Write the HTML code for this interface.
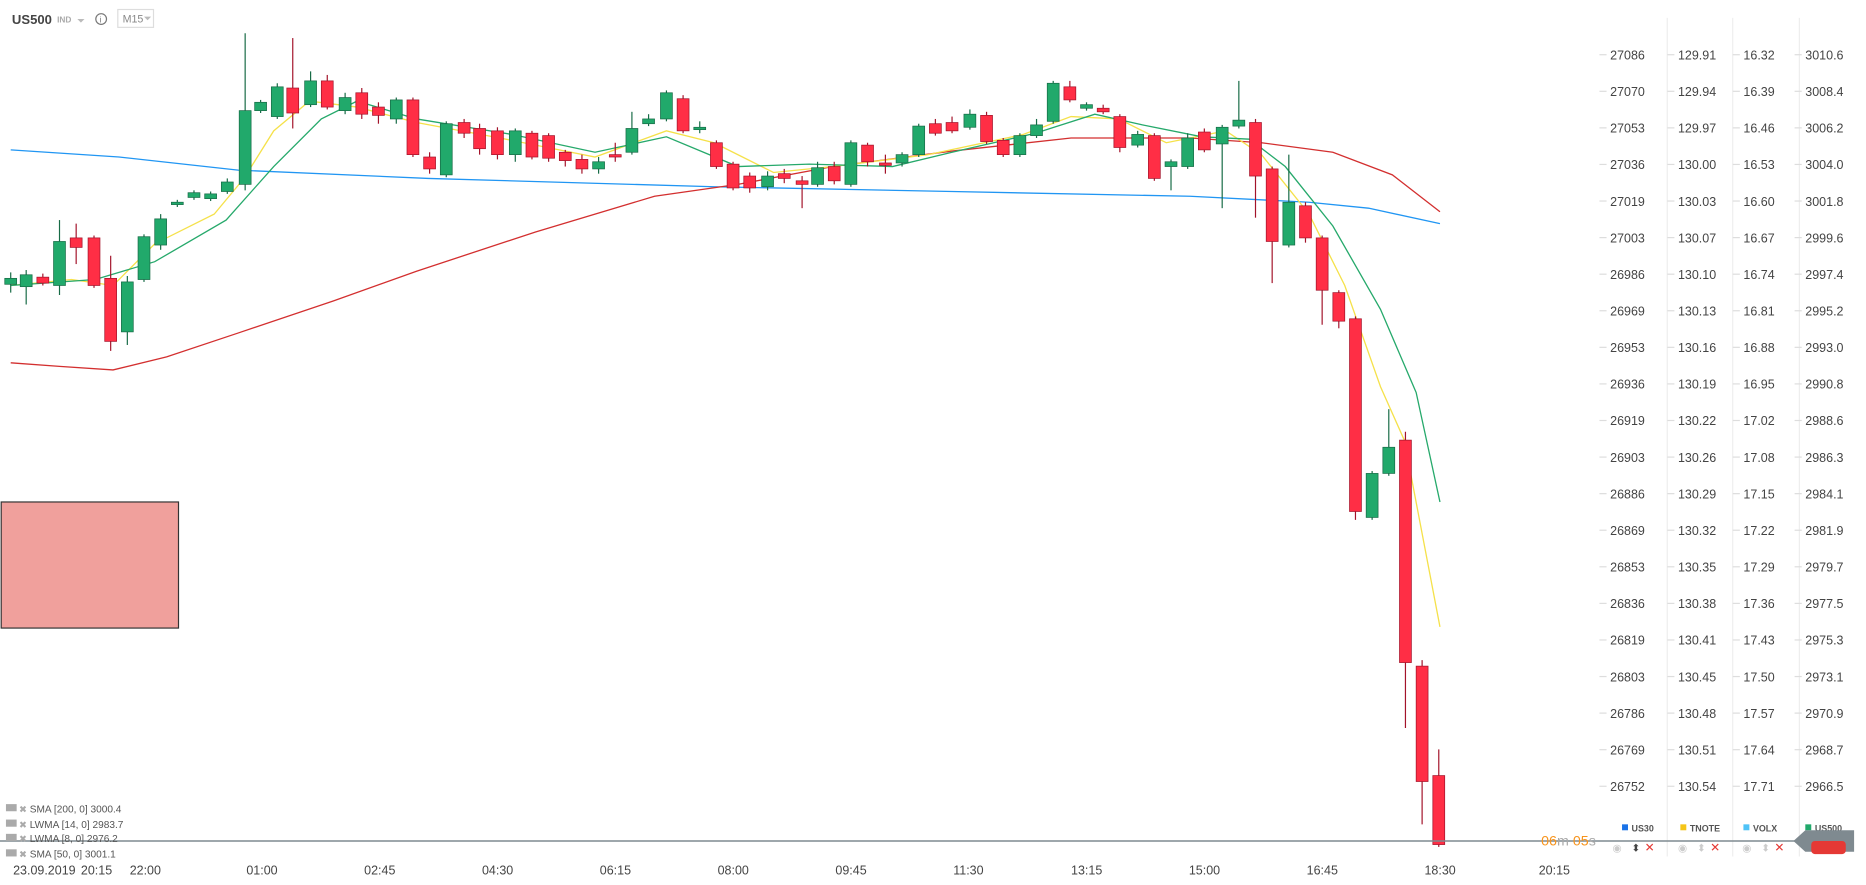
<!DOCTYPE html>
<html><head><meta charset="utf-8"><style>
html,body{margin:0;padding:0;background:#fff;overflow:hidden}
svg{display:block;font-family:"Liberation Sans",sans-serif}
</style></head><body>
<svg id="s" width="1866" height="885" viewBox="0 0 1568 744" preserveAspectRatio="none" xmlns="http://www.w3.org/2000/svg">
<rect width="1568" height="744" fill="#fff"/>
<g stroke="#eeeeee" stroke-width="1">
<line x1="1401" y1="15" x2="1401" y2="720"/><line x1="1456" y1="15" x2="1456" y2="720"/><line x1="1512" y1="15" x2="1512" y2="720"/>
</g>
<text x="10" y="20" font-size="11" font-weight="bold" fill="#444">US500</text>
<text x="48" y="19" font-size="7" fill="#aaa" font-weight="bold">IND</text>
<path d="M65 16 l3 3 l3 -3z" fill="#bbb"/>
<circle cx="85" cy="16" r="4.5" fill="none" stroke="#777" stroke-width="1"/><text x="83.7" y="19" font-size="7" fill="#777">i</text>
<rect x="99" y="8" width="30" height="15" fill="none" stroke="#ddd"/><text x="103" y="19" font-size="9" fill="#888">M15</text><path d="M121 14 l3 3 l3 -3z" fill="#bbb"/>
<rect x="1" y="422" width="149" height="106" fill="#f0a09c" stroke="#333" stroke-width="1"/>
<g id="ma" fill="none" stroke-width="1.1"></g>
<g id="c"></g>
<g id="ax" font-size="10.5" fill="#444"></g>
<line x1="0" y1="707" x2="1510" y2="707" stroke="#7f8a90" stroke-width="1.2"/>
<g font-size="8.5" fill="#555">
<text x="25" y="683">SMA  [200,  0] 3000.4</text>
<text x="25" y="696">LWMA  [14,  0] 2983.7</text>
<text x="25" y="708">LWMA  [8,  0] 2976.2</text>
<text x="25" y="721">SMA  [50,  0] 3001.1</text>
</g>
<g fill="#aaa"><rect x="5" y="676" width="9" height="6"/><rect x="5" y="689" width="9" height="6"/><rect x="5" y="701" width="9" height="6"/><rect x="5" y="714" width="9" height="6"/>
<text x="16" y="683" font-size="8">✖</text><text x="16" y="696" font-size="8">✖</text><text x="16" y="708" font-size="8">✖</text><text x="16" y="721" font-size="8">✖</text></g>
<g font-size="10.5" fill="#444">
<text x="11" y="735">23.09.2019</text><text x="68" y="735">20:15</text><text x="109" y="735">22:00</text><text x="207" y="735">01:00</text><text x="306" y="735">02:45</text><text x="405" y="735">04:30</text><text x="504" y="735">06:15</text><text x="603" y="735">08:00</text><text x="702" y="735">09:45</text><text x="801" y="735">11:30</text><text x="900" y="735">13:15</text><text x="999" y="735">15:00</text><text x="1098" y="735">16:45</text><text x="1197" y="735">18:30</text><text x="1293" y="735">20:15</text>
</g>
<text x="1295" y="711" font-size="12" fill="#f7941d">06<tspan fill="#aaa">m</tspan> 05<tspan fill="#aaa">s</tspan></text>
<g font-size="7.5" font-weight="bold" fill="#555">
<rect x="1363" y="693" width="5" height="5" fill="#1a73e8"/><text x="1371" y="699">US30</text>
<rect x="1412" y="693" width="5" height="5" fill="#f5c518"/><text x="1420" y="699">TNOTE</text>
<rect x="1465" y="693" width="5" height="5" fill="#4fc3f7"/><text x="1473" y="699">VOLX</text>
<rect x="1517" y="693" width="5" height="5" fill="#21a96b"/><text x="1525" y="699">US500</text>
</g>
<g font-size="10" fill="#e53935"><text x="1382" y="716">✕</text><text x="1437" y="716">✕</text><text x="1491" y="716">✕</text></g>
<g font-size="9" fill="#ccc"><text x="1355" y="716">◉</text><text x="1410" y="716">◉</text><text x="1464" y="716">◉</text><text x="1371" y="716" fill="#444">⬍</text><text x="1426" y="716">⬍</text><text x="1480" y="716">⬍</text></g>
<path d="M1507 707 l10 -9 h41 v18 h-41z" fill="#7f8a90"/>
<rect x="1522" y="707" width="29" height="11" rx="3" fill="#e53935"/>
</svg>
<script>
var C=[[9,239,234,229,246],[22,241,231,227,256],[36,233,238,230,240],[50,240,203,185,248],[64,200,208,188,222],[79,200,240,198,242],[93,234,287,215,295],[107,279,237,232,290],[121,235,199,197,237],[135,206,184,180,210],[149,172,170,168,174],[163,166,162,160,168],[177,167,163,161,169],[191,161,153,150,163],[206,155,93,28,160],[219,93,86,84,95],[233,98,73,70,100],[246,74,95,32,108],[261,88,68,60,90],[275,68,90,63,92],[290,93,82,78,96],[304,78,96,74,100],[318,90,97,86,104],[333,100,84,82,104],[347,84,130,82,132],[361,132,142,128,146],[375,147,104,102,149],[390,103,112,100,116],[403,108,125,104,130],[418,110,130,107,134],[433,130,110,108,136],[447,112,132,110,134],[461,114,133,112,136],[475,128,135,126,140],[489,134,142,130,146],[503,142,136,132,146],[517,130,132,120,136],[531,128,108,94,130],[545,104,100,96,106],[560,100,78,76,102],[574,83,110,80,112],[588,109,107,102,112],[602,120,140,118,142],[616,138,158,136,160],[630,148,158,145,162],[645,157,148,144,160],[659,146,150,142,154],[674,152,155,148,175],[687,155,141,136,157],[701,140,152,136,155],[715,155,120,118,157],[729,122,136,120,140],[744,137,139,130,146],[758,137,130,128,140],[772,130,106,104,132],[786,104,112,100,114],[800,103,110,98,112],[815,107,96,92,109],[829,97,119,94,121],[843,118,130,116,132],[857,130,114,112,132],[871,114,105,100,116],[885,102,70,68,104],[899,73,84,68,86],[913,91,88,86,93],[927,91,94,88,96],[941,98,124,96,128],[956,122,113,110,124],[970,114,150,112,152],[984,140,136,134,160],[998,140,116,112,142],[1012,111,126,108,128],[1027,121,107,105,175],[1041,106,101,68,108],[1055,103,148,100,183],[1069,142,203,140,238],[1083,206,170,130,208],[1097,173,200,170,204],[1111,200,244,198,273],[1125,246,270,244,276],[1139,268,430,266,437],[1153,435,398,396,437],[1167,398,376,344,400],[1181,370,557,363,612],[1195,560,657,555,693],[1209,652,710,630,712]];
var h='';C.forEach(function(c){var up=c[2]<c[1],col=up?'#21a96b':'#ff2e45',st=up?'#176b46':'#a3132a';var t=Math.min(c[1],c[2]),b=Math.max(c[1],c[2]);
h+='<line x1="'+c[0]+'" x2="'+c[0]+'" y1="'+c[3]+'" y2="'+c[4]+'" stroke="'+st+'" stroke-width="1"/>';
h+='<rect x="'+(c[0]-5)+'" y="'+t+'" width="10" height="'+Math.max(b-t,1.5)+'" fill="'+col+'" stroke="'+st+'" stroke-width="0.6"/>';});
document.getElementById('c').innerHTML=h;
function pl(p,c){return '<polyline points="'+p+'" stroke="'+c+'"/>';}
document.getElementById('ma').innerHTML=
pl('9,126 100,132 200,143 360,150 600,157 800,161 1000,165 1100,170 1150,175 1210,188','#2196f3')+
pl('9,305 50,308 95,311 140,300 200,280 280,253 350,228 450,195 550,165 620,155 700,140 800,127 900,116 1000,116 1060,120 1120,128 1170,147 1210,178','#d32f2f')+
pl('9,240 60,235 95,240 130,205 180,180 205,150 230,110 260,85 300,90 350,103 420,116 500,132 560,110 600,120 650,145 700,140 780,130 860,113 900,98 940,100 980,120 1030,110 1060,130 1100,180 1130,240 1160,325 1180,370 1210,527','#f5e14a')+
pl('9,240 80,235 130,220 190,185 230,140 270,100 300,85 350,100 430,113 500,128 560,115 620,140 680,138 750,140 800,128 870,112 920,96 960,105 1010,115 1050,117 1080,140 1120,190 1160,260 1190,330 1210,422','#26a96b');
var a=[[27086,129.91,16.32,3010.6],[27070,129.94,16.39,3008.4],[27053,129.97,16.46,3006.2],[27036,'130.00',16.53,'3004.0'],[27019,130.03,'16.60',3001.8],[27003,130.07,16.67,2999.6],[26986,'130.10',16.74,2997.4],[26969,130.13,16.81,2995.2],[26953,130.16,16.88,'2993.0'],[26936,130.19,16.95,2990.8],[26919,130.22,17.02,2988.6],[26903,130.26,17.08,2986.3],[26886,130.29,17.15,2984.1],[26869,130.32,17.22,2981.9],[26853,130.35,17.29,2979.7],[26836,130.38,17.36,2977.5],[26819,130.41,17.43,2975.3],[26803,130.45,'17.50',2973.1],[26786,130.48,17.57,2970.9],[26769,130.51,17.64,2968.7],[26752,130.54,17.71,2966.5]];
var g='';a.forEach(function(r,i){var y=50+i*30.75;var xs=[1353,1410,1465,1517];for(var j=0;j<4;j++){g+='<line x1="'+(xs[j]-9)+'" x2="'+(xs[j]-3)+'" y1="'+(y-4)+'" y2="'+(y-4)+'" stroke="#ddd"/><text x="'+xs[j]+'" y="'+y+'">'+r[j]+'</text>';}});
document.getElementById('ax').innerHTML=g;
</script>
</body></html>
